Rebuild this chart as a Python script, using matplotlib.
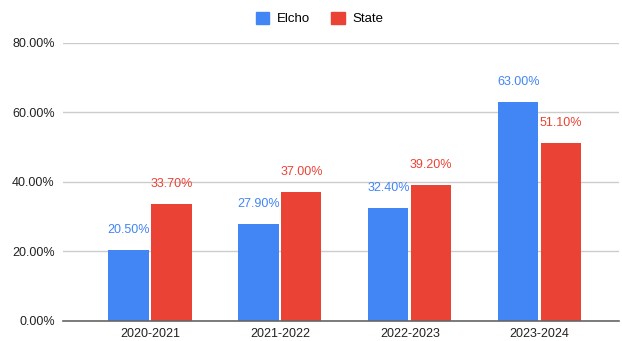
import numpy as np
import matplotlib.pyplot as plt
from matplotlib.patches import Patch
import matplotlib.ticker as mtick

plt.rcParams['font.family'] = ['Liberation Sans', 'DejaVu Sans']

# school years and rates (%)
years = ['2020-2021', '2021-2022', '2022-2023', '2023-2024']
elcho = [20.5, 27.9, 32.4, 63.0]
state = [33.7, 37.0, 39.2, 51.1]

blue = '#4285F4'
red = '#EA4335'

fig = plt.figure(figsize=(6.22, 3.41), dpi=100)
ax = fig.add_axes([0.1013, 0.0587, 0.8937, 0.8153])

x = np.arange(len(years))
w = 0.31
off = 0.165

b1 = ax.bar(x - off, elcho, width=w, color=blue, zorder=3)
b2 = ax.bar(x + off, state, width=w, color=red, zorder=3)

# value labels above each bar
for bars, vals, col in [(b1, elcho, blue), (b2, state, red)]:
    for rect, v in zip(bars, vals):
        ax.annotate(f'{v:.2f}%', (rect.get_x() + rect.get_width() / 2, v),
                    xytext=(0, 14.5), textcoords='offset points',
                    ha='center', va='center', fontsize=9, color=col)

ax.set_xlim(-0.67, 3.61)
ax.set_ylim(0, 80)
ax.set_xticks(x)
ax.set_xticklabels(years)
ax.set_yticks([0, 20, 40, 60, 80])
ax.yaxis.set_major_formatter(mtick.StrMethodFormatter('{x:.2f}%'))
ax.tick_params(axis='both', length=0, labelsize=9, labelcolor='#222222')
ax.tick_params(axis='y', pad=6)
ax.tick_params(axis='x', pad=5)

ax.grid(axis='y', color='#cccccc', linewidth=1, zorder=0)
for s in ['top', 'right', 'left']:
    ax.spines[s].set_visible(False)
ax.spines['bottom'].set_color('#666666')
ax.spines['bottom'].set_linewidth(1.2)
ax.spines['bottom'].set_zorder(4)

handles = [Patch(color=blue, label='Elcho'), Patch(color=red, label='State')]
fig.legend(handles=handles, loc='upper center', bbox_to_anchor=(0.514, 1.0),
           ncol=2, frameon=False, fontsize=9.5, handlelength=1.0, handleheight=1.0,
           handletextpad=0.6, columnspacing=1.6)

fig.savefig('out.png', dpi=100)
